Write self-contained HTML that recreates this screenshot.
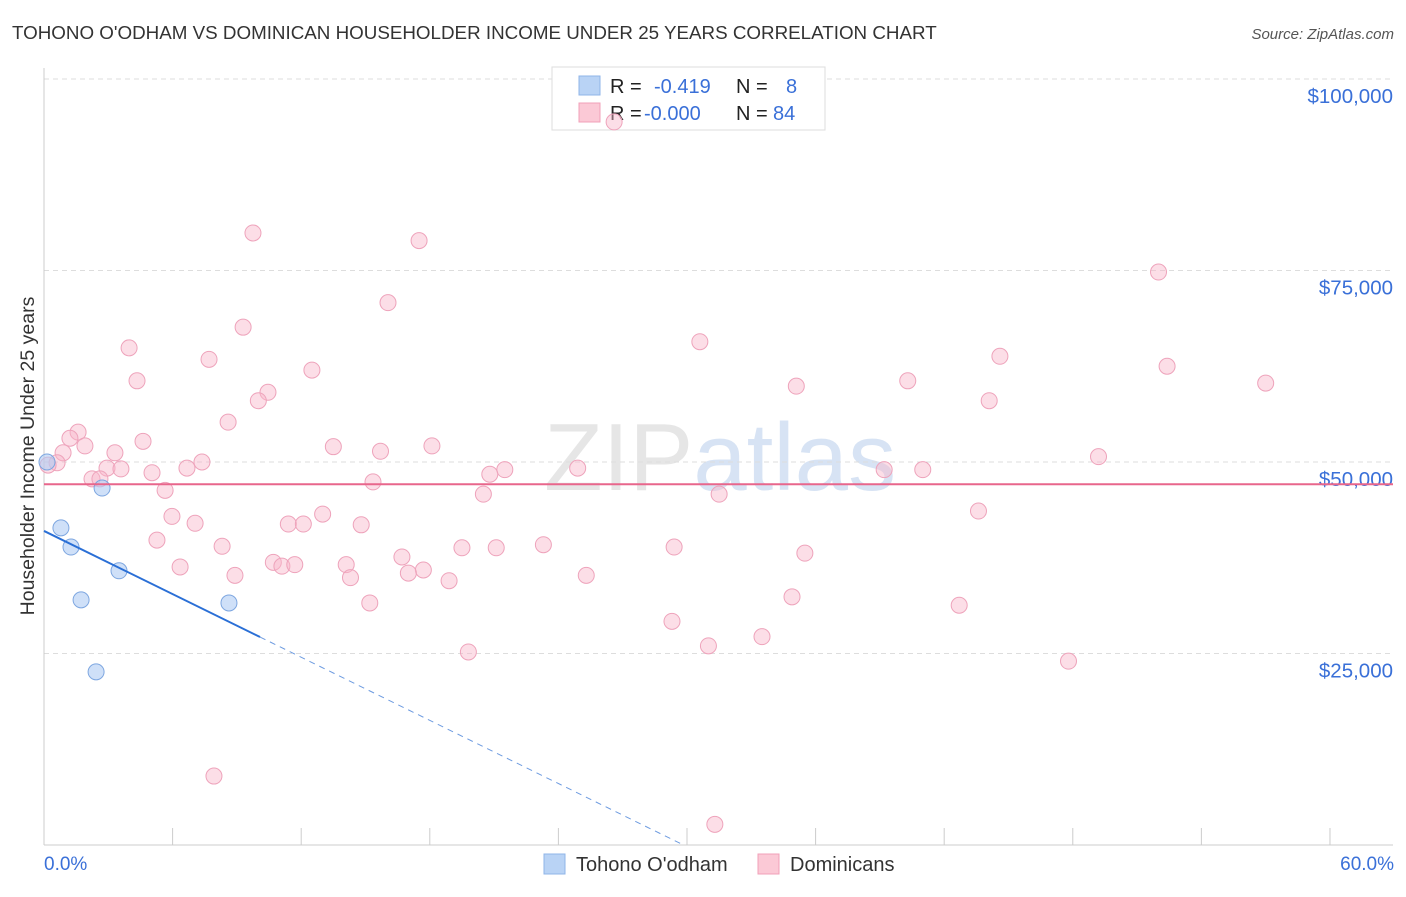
<!DOCTYPE html>
<html><head><meta charset="utf-8"><style>
body{margin:0;background:#fff;font-family:"Liberation Sans",sans-serif}
svg text{font-family:"Liberation Sans",sans-serif}
</style></head><body>
<svg id="c" width="1406" height="892" xmlns="http://www.w3.org/2000/svg">
<text x="12" y="39" font-size="18.8" fill="#333">TOHONO O'ODHAM VS DOMINICAN HOUSEHOLDER INCOME UNDER 25 YEARS CORRELATION CHART</text>
<text x="1394" y="39" font-size="15" fill="#555" font-style="italic" text-anchor="end">Source: ZipAtlas.com</text>
<text x="720" y="490" font-size="96" fill="#e6e6e6" text-anchor="middle" font-family="Liberation Serif">ZIP<tspan fill="#d7e3f4" font-family="Liberation Sans">atlas</tspan></text>
<g id="grid"></g>
<line x1="44" y1="68" x2="44" y2="845" stroke="#ccc"/>
<line x1="44" y1="845" x2="1393" y2="845" stroke="#ccc"/>
<g>
<rect x="552" y="67" width="273" height="63" fill="#fff" stroke="#ddd"/>
<rect x="579" y="76" width="21" height="19" fill="#b9d3f5" stroke="#8fb4e8"/>
<rect x="579" y="103" width="21" height="19" fill="#fbc9d6" stroke="#f1a0b8"/>
<text x="610" y="93" font-size="20" fill="#222">R = <tspan x="654" fill="#3a70d8">-0.419</tspan><tspan x="736">N = </tspan><tspan x="786" fill="#3a70d8">8</tspan></text>
<text x="610" y="120" font-size="20" fill="#222">R = <tspan x="644" fill="#3a70d8">-0.000</tspan><tspan x="736">N = </tspan><tspan x="773" fill="#3a70d8">84</tspan></text>
</g>
<g id="pts"></g>
<text transform="translate(34,456) rotate(-90)" font-size="19.5" fill="#333" text-anchor="middle">Householder Income Under 25 years</text>
<text x="44" y="870" font-size="19" fill="#3a70d8">0.0%</text>
<text x="1394" y="870" font-size="19" fill="#3a70d8" text-anchor="end">60.0%</text>
<g>
<rect x="544" y="854" width="21" height="20" fill="#b9d3f5" stroke="#8fb4e8"/>
<text x="576" y="871" font-size="20" fill="#333">Tohono O'odham</text>
<rect x="758" y="854" width="21" height="20" fill="#fbc9d6" stroke="#f1a0b8"/>
<text x="790" y="871" font-size="20" fill="#333">Dominicans</text>
</g>
</svg>
<script>
const yTicks=[25000,50000,75000,100000];
const yTickLabels=["$25,000","$50,000","$75,000","$100,000"];
const xTicks=[0,6,12,18,24,30,36,42,48,54,60];
const blueX=[0.14,0.79,1.26,1.73,2.43,2.71,3.5,8.63];
const blueY=[50.0,41.4,38.9,32.0,22.6,46.6,35.8,31.6];
const pinkX=[26.6,9.75,17.5,52.0,16.05,9.29,30.6,3.97,44.6,7.7,52.4,12.5,4.34,40.3,57.0,35.1,10.45,10.0,44.1,8.59,1.59,1.21,4.62,1.91,13.5,18.1,15.7,3.31,0.89,49.2,7.37,0.61,0.19,6.67,2.94,3.59,24.9,21.5,39.2,41.0,5.04,20.8,2.24,2.61,15.35,5.65,20.5,31.5,43.6,5.97,13.0,7.05,11.4,12.1,14.8,5.27,23.3,8.31,29.4,19.5,21.1,35.5,16.7,10.7,11.1,11.7,14.1,6.35,17.7,17.0,8.91,25.3,14.3,18.9,34.9,15.2,42.7,29.3,33.5,31.0,19.8,47.8,7.93,31.3];
const pinkY=[94.4,79.9,78.9,74.8,70.8,67.6,65.7,64.9,63.8,63.4,62.5,62.0,60.6,60.6,60.3,59.9,59.1,58.0,58.0,55.2,53.9,53.1,52.7,52.1,52.0,52.1,51.4,51.2,51.2,50.7,50.0,49.9,49.6,49.2,49.2,49.1,49.2,49.0,49.0,49.0,48.6,48.4,47.8,47.8,47.4,46.3,45.8,45.8,43.6,42.9,43.2,42.0,41.9,41.9,41.8,39.8,39.2,39.0,38.9,38.8,38.8,38.1,37.6,36.9,36.4,36.6,36.6,36.3,35.9,35.5,35.2,35.2,34.9,34.5,32.4,31.6,31.3,29.2,27.2,26.0,25.2,24.0,9.0,2.7];
const pinkMean=47.1;
const blueFit=[41.0,-1.374];
const NS="http://www.w3.org/2000/svg";
const X=p=>44+p*21.433, Y=v=>845-v*1000*191.5/25000;
function mk(t,a,parent){const e=document.createElementNS(NS,t);for(const k in a)e.setAttribute(k,a[k]);document.getElementById(parent).appendChild(e);return e;}
yTicks.forEach((v,i)=>{
 const l=mk('line',{x1:44,x2:1393,y1:Y(v/1000),y2:Y(v/1000),stroke:'#ddd','stroke-dasharray':'5,4'},'grid');
 
 
 const t=mk('text',{x:1393,y:Y(v/1000)+24,'font-size':20.5,fill:'#3a70d8','text-anchor':'end'},'grid');t.textContent=yTickLabels[i];
 
 
});
xTicks.forEach(p=>{
 const l=mk('line',{x1:X(p),x2:X(p),y1:828,y2:845,stroke:'#ccc'},'grid');
 
 
});
pinkX.forEach((p,i)=>{
 const c=mk('circle',{cx:X(p),cy:Y(pinkY[i]),r:8,fill:'rgba(248,182,202,0.45)',stroke:'#eea3bb','stroke-width':1},'pts');
 
 
});
blueX.forEach((p,i)=>{
 const c=mk('circle',{cx:X(p),cy:Y(blueY[i]),r:8,fill:'rgba(175,204,243,0.6)',stroke:'#7da6e0','stroke-width':1},'pts');
 
 
});
const pl=mk('line',{x1:44,x2:1393,y1:Y(pinkMean),y2:Y(pinkMean),stroke:'#e8668c','stroke-width':2},'pts');


const bx0=0,bx1=10.08,bx2=-blueFit[0]/blueFit[1];
const bl=mk('line',{x1:X(bx0),y1:Y(blueFit[0]),x2:X(bx1),y2:Y(blueFit[0]+blueFit[1]*bx1),stroke:'#2a6fd6','stroke-width':2},'pts');


const bd=mk('line',{x1:X(bx1),y1:Y(blueFit[0]+blueFit[1]*bx1),x2:X(bx2),y2:Y(0),stroke:'#6d9be0','stroke-width':1,'stroke-dasharray':'6,5'},'pts');


</script>
</body></html>
